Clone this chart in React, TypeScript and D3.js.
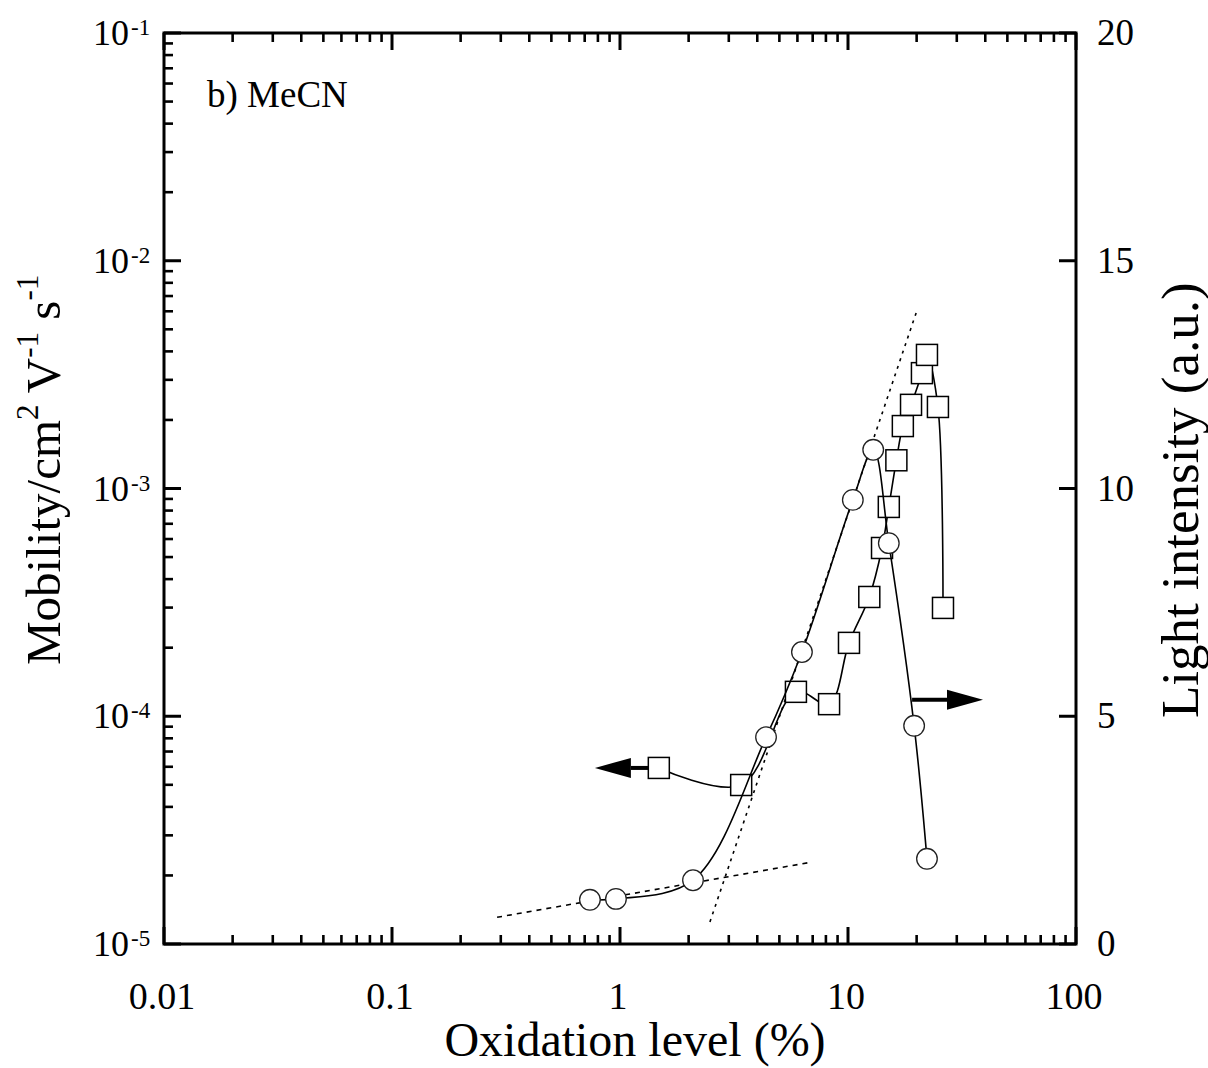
import React from 'react';
import * as d3 from 'd3';

// Mobility (squares, left log axis)
const mobX = [1.48, 3.40, 5.91, 8.26, 10.1, 12.4, 14.1, 15.1, 16.3, 17.4, 18.9, 21.1, 22.2, 24.8, 26.1];
const mobY = [5.93e-5, 4.99e-5, 1.28e-4, 1.13e-4, 2.10e-4, 3.34e-4, 5.48e-4, 8.3e-4, 1.33e-3, 1.88e-3, 2.33e-3, 3.21e-3, 3.86e-3, 2.28e-3, 2.99e-4];
// Light intensity (circles, right linear axis)
const lightX = [0.738, 0.960, 2.09, 4.37, 6.28, 10.5, 12.9, 15.1, 19.5, 22.2];
const lightY = [0.97, 0.99, 1.40, 4.54, 6.41, 9.75, 10.85, 8.80, 4.79, 1.87];
// Dotted fit lines (x, left-axis y)
const fitLowX = [0.289, 6.95];
const fitLowY = [1.31e-5, 2.29e-5];
const fitHighX = [2.48, 20.1];
const fitHighY = [1.25e-5, 6.08e-3];
// Arrows
const arrowLeftX = [1.48, 0.776];
const arrowLeftY = 5.93e-5;
const arrowRightX = [19.1, 39.1];
const arrowRightY = 5.36;

const xTickVals = [0.01, 0.1, 1, 10, 100];
const xTickLabels = ['0.01', '0.1', '1', '10', '100'];
const yLeftTickVals = [1e-5, 1e-4, 1e-3, 1e-2, 1e-1];
const yLeftExp = ['-5', '-4', '-3', '-2', '-1'];
const yRightTickVals = [0, 5, 10, 15, 20];

const FONT = '"Liberation Serif", "Times New Roman", serif';

export default function App() {
  const X0 = 164, X1 = 1076, Y0 = 33, Y1 = 944;
  const x = d3.scaleLog().domain([0.01, 100]).range([X0, X1]);
  const yL = d3.scaleLog().domain([1e-5, 1e-1]).range([Y1, Y0]);
  const yR = d3.scaleLinear().domain([0, 20]).range([Y1, Y0]);

  const xMinor = x.ticks().filter(v => !xTickVals.some(m => Math.abs(m - v) / v < 1e-6));
  const yMinor = yL.ticks().filter(v => !yLeftTickVals.some(m => Math.abs(m - v) / v < 1e-6));

  const MAJ = 17, MIN = 9;

  const curve = d3.line<[number, number]>().x(d => d[0]).y(d => d[1]).curve(d3.curveCatmullRom.alpha(0.5));
  const mobPts: [number, number][] = mobX.map((v, i) => [x(v), yL(mobY[i])]);
  const lightPts: [number, number][] = lightX.map((v, i) => [x(v), yR(lightY[i])]);

  const arrow = (x0: number, x1: number, y: number, key: string) => {
    const dir = Math.sign(x1 - x0);
    const headLen = 36, half = 10;
    const base = x1 - dir * headLen;
    return (
      <g key={key}>
        <line x1={x0} y1={y} x2={base} y2={y} stroke="#000" strokeWidth={4} />
        <path d={`M${x1},${y} L${base},${y - half} L${base},${y + half} Z`} fill="#000" />
      </g>
    );
  };

  return (
    <svg width={1208} height={1068} style={{ position: 'absolute', left: 0, top: 0, display: 'block', background: '#fff' }}
      fontFamily={FONT}>
      <rect x={0} y={0} width={1208} height={1068} fill="#fff" />
      {/* fit lines */}
      <line x1={x(fitLowX[0])} y1={yL(fitLowY[0])} x2={x(fitLowX[1])} y2={yL(fitLowY[1])}
        stroke="#000" strokeWidth={1.6} strokeDasharray="5 5" />
      <line x1={x(fitHighX[0])} y1={yL(fitHighY[0])} x2={x(fitHighX[1])} y2={yL(fitHighY[1])}
        stroke="#000" strokeWidth={1.6} strokeDasharray="3 5" />
      {/* arrows */}
      {arrow(x(arrowLeftX[0]), x(arrowLeftX[1]), yL(arrowLeftY), 'al')}
      {arrow(x(arrowRightX[0]), x(arrowRightX[1]), yR(arrowRightY), 'ar')}
      {/* mobility series */}
      <path d={curve(mobPts) || ''} fill="none" stroke="#000" strokeWidth={1.6} />
      {mobPts.map((p, i) => (
        <rect key={'s' + i} x={p[0] - 10.5} y={p[1] - 10.5} width={21} height={21} fill="#fff" stroke="#000" strokeWidth={1.5} />
      ))}
      {/* light series */}
      <path d={curve(lightPts) || ''} fill="none" stroke="#000" strokeWidth={1.6} />
      {lightPts.map((p, i) => (
        <circle key={'c' + i} cx={p[0]} cy={p[1]} r={10.3} fill="#fff" stroke="#222" strokeWidth={1.3} />
      ))}
      {/* frame */}
      <rect x={X0} y={Y0} width={X1 - X0} height={Y1 - Y0} fill="none" stroke="#000" strokeWidth={3} />
      {/* x ticks */}
      {xTickVals.map(v => (
        <g key={'xt' + v}>
          <line x1={x(v)} x2={x(v)} y1={Y1} y2={Y1 - MAJ} stroke="#000" strokeWidth={3} />
          <line x1={x(v)} x2={x(v)} y1={Y0} y2={Y0 + MAJ} stroke="#000" strokeWidth={3} />
        </g>
      ))}
      {xMinor.map(v => (
        <g key={'xm' + v}>
          <line x1={x(v)} x2={x(v)} y1={Y1} y2={Y1 - MIN} stroke="#000" strokeWidth={2.6} />
          <line x1={x(v)} x2={x(v)} y1={Y0} y2={Y0 + MIN} stroke="#000" strokeWidth={2.6} />
        </g>
      ))}
      {xTickVals.map((v, i) => (
        <text key={'xl' + v} x={x(v) - 2} y={1009} fontSize={38} textAnchor="middle">{xTickLabels[i]}</text>
      ))}
      {/* left y ticks */}
      {yLeftTickVals.map(v => (
        <line key={'yt' + v} x1={X0} x2={X0 + MAJ} y1={yL(v)} y2={yL(v)} stroke="#000" strokeWidth={3} />
      ))}
      {yMinor.map(v => (
        <line key={'ym' + v} x1={X0} x2={X0 + MIN} y1={yL(v)} y2={yL(v)} stroke="#000" strokeWidth={2.6} />
      ))}
      {yLeftTickVals.map((v, i) => (
        <g key={'yl' + v}>
          <text x={129} y={yL(v) + 12} fontSize={36} textAnchor="end">10</text>
          <text x={131} y={yL(v) + 2} fontSize={23} textAnchor="start">{yLeftExp[i]}</text>
        </g>
      ))}
      {/* right y ticks */}
      {yRightTickVals.map(v => (
        <g key={'yr' + v}>
          <line x1={X1} x2={X1 - MAJ} y1={yR(v)} y2={yR(v)} stroke="#000" strokeWidth={3} />
          <text x={1097} y={yR(v) + 12} fontSize={37} textAnchor="start">{v}</text>
        </g>
      ))}
      {/* annotation */}
      <text x={207} y={107} fontSize={37}>b) MeCN</text>
      {/* axis titles */}
      <text x={635} y={1056} fontSize={48} textAnchor="middle">Oxidation level (%)</text>
      <text transform="translate(60,665) rotate(-90)" fontSize={49}>
        <tspan>Mobility/cm</tspan>
        <tspan fontSize={31} dy={-22}>2</tspan>
        <tspan dy={22}> V</tspan>
        <tspan fontSize={31} dy={-22}>-1</tspan>
        <tspan dy={22}> s</tspan>
        <tspan fontSize={31} dy={-22}>-1</tspan>
      </text>
      <text transform="translate(1198,718) rotate(-90)" fontSize={53}>Light intensity (a.u.)</text>
    </svg>
  );
}
